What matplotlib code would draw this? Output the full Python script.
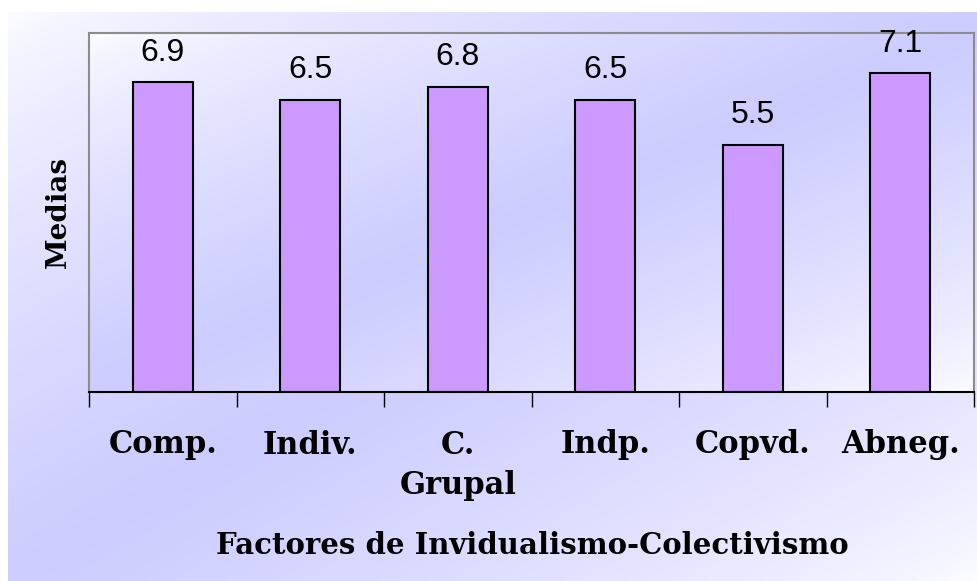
import numpy as np
import matplotlib.pyplot as plt

categorias = ["Comp.", "Indiv.", "C.\nGrupal", "Indp.", "Copvd.", "Abneg."]
medias = [6.9, 6.5, 6.8, 6.5, 5.5, 7.1]
etiquetas = ["6.9", "6.5", "6.8", "6.5", "5.5", "7.1"]

lavanda = np.array([204, 204, 255]) / 255.0
blanco = np.array([253, 253, 255]) / 255.0


def degradado(n=300):
    u, v = np.meshgrid(np.linspace(0, 1, n), np.linspace(0, 1, n))
    t = (1 - np.abs(u + v - 1)) ** 0.7
    t = t[..., None]
    return blanco * (1 - t) + lavanda * t


fig = plt.figure(figsize=(9.77, 5.81), dpi=100)

# fondo degradado del grafico
bg = fig.add_axes([8 / 977, 0, 969 / 977, 569 / 581], zorder=-1)
bg.imshow(degradado(), aspect="auto", extent=[0, 1, 0, 1], origin="upper")
bg.axis("off")

ax = fig.add_axes([89 / 977, 189 / 581, 885 / 977, 359 / 581])
ax.patch.set_alpha(0)
x = np.arange(len(categorias))
ax.imshow(degradado(), aspect="auto", extent=[-0.5, 5.5, 0, 8], origin="upper", zorder=0)

bars = ax.bar(x, medias, width=0.405, color="#cc99ff", edgecolor="black",
              linewidth=1.5, zorder=2)
for xi, val, lab in zip(x, medias, etiquetas):
    ax.annotate(lab, (xi, val), xytext=(0, 21.5), textcoords="offset points",
                ha="center", va="center", fontsize=23,
                family="Liberation Sans", zorder=3)

ax.set_xlim(-0.5, 5.5)
ax.set_ylim(0, 8)
ax.set_yticks([])

ax.set_xticks(x)
ax.set_xticklabels(categorias, family="DejaVu Serif", fontweight="bold",
                   fontsize=22, linespacing=1.38)
ax.tick_params(axis="x", which="major", length=0, pad=27)
ax.set_xticks(np.arange(-0.5, 6.0, 1.0), minor=True)
ax.tick_params(axis="x", which="minor", length=11, width=1, color="black",
               direction="out")

for s in ["top", "right", "left"]:
    ax.spines[s].set_color("#8c8c8c")
    ax.spines[s].set_linewidth(1.5)
ax.spines["bottom"].set_color("black")
ax.spines["bottom"].set_linewidth(1.5)

ax.set_ylabel("Medias", family="DejaVu Serif", fontweight="bold",
              fontsize=20, labelpad=12)
fig.text(532 / 977, 1 - 545 / 581, "Factores de Invidualismo-Colectivismo",
         ha="center", va="center", family="DejaVu Serif",
         fontweight="bold", fontsize=21)

fig.savefig("out.png", dpi=100)
